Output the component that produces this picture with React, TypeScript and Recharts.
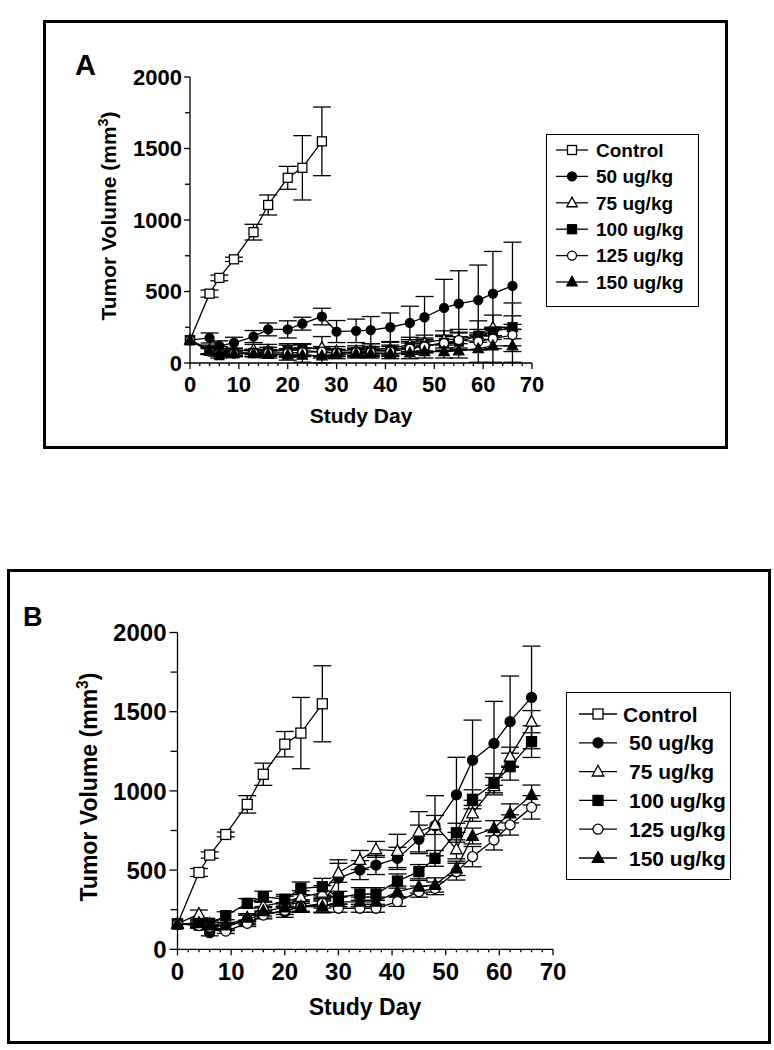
import React from 'react';
import { LineChart, Line, XAxis, YAxis, ErrorBar, Legend } from 'recharts';

const FONT = '"Liberation Sans", Arial, Helvetica, sans-serif';
const W = 774;
const H = 1050;

const DAYS = [0, 4, 6, 9, 13, 16, 20, 23, 27, 30, 34, 37, 41, 45, 48, 52, 55, 59, 62, 66];
const X_TICKS = [0, 2, 4, 6, 8, 10, 12, 14, 16, 18, 20, 22, 24, 26, 28, 30, 32, 34, 36, 38, 40, 42, 44, 46, 48, 50, 52, 54, 56, 58, 60, 62, 64, 66, 68, 70];
const Y_TICKS = [0, 250, 500, 750, 1000, 1250, 1500, 1750, 2000];

// control group is the same in both panels (stops at day 27)
const CONTROL = [160, 485, 595, 725, 915, 1105, 1295, 1365, 1550];
const CONTROL_ERR = [0, 25, 20, 15, 55, 70, 80, 225, 240];

// panel A
const A_50 = [160, 175, 120, 140, 185, 235, 235, 275, 325, 220, 225, 230, 250, 280, 320, 385, 415, 440, 485, 540];
const A_50_ERR = [0, 35, 35, 40, 42, 45, 60, 45, 58, 77, 82, 95, 100, 117, 145, 200, 230, 245, 295, 305];
const A_75 = [160, 95, 85, 80, 95, 90, 90, 95, 110, 85, 85, 95, 100, 130, 140, 165, 165, 195, 250, 250];
const A_75_ERR = [0, 30, 30, 25, 35, 40, 45, 40, 75, 30, 35, 40, 45, 50, 55, 60, 70, 100, 85, 170];
const A_100 = [160, 85, 55, 70, 70, 80, 90, 90, 75, 70, 75, 85, 90, 110, 120, 140, 150, 190, 220, 250];
const A_100_ERR = [0, 25, 20, 20, 25, 30, 35, 40, 30, 25, 25, 30, 35, 40, 45, 55, 60, 45, 30, 80];
const A_125 = [160, 80, 70, 65, 70, 70, 70, 75, 80, 70, 75, 75, 80, 100, 115, 140, 160, 150, 170, 195];
const A_125_ERR = [0, 20, 20, 20, 25, 25, 30, 30, 35, 25, 30, 30, 35, 40, 45, 50, 55, 60, 70, 75];
const A_150 = [160, 85, 75, 65, 65, 60, 55, 55, 50, 60, 65, 65, 65, 70, 80, 80, 85, 100, 120, 120];
const A_150_ERR = [0, 25, 25, 20, 20, 25, 35, 50, 50, 30, 30, 30, 35, 40, 45, 45, 50, 95, 115, 115];

// panel B
const B_50 = [160, 160, 105, 143, 185, 227, 237, 273, 280, 450, 500, 532, 574, 694, 780, 975, 1194, 1300, 1437, 1590];
const B_50_ERR = [0, 25, 20, 25, 30, 35, 35, 40, 50, 115, 60, 60, 70, 90, 190, 237, 253, 265, 288, 324];
const B_75 = [160, 223, 160, 140, 190, 273, 300, 330, 357, 483, 564, 631, 621, 742, 785, 631, 858, 1030, 1216, 1437];
const B_75_ERR = [0, 25, 20, 20, 25, 30, 35, 40, 45, 60, 60, 50, 105, 127, 60, 60, 50, 55, 60, 70];
const B_100 = [160, 153, 164, 212, 290, 332, 316, 385, 395, 326, 349, 349, 431, 490, 574, 736, 947, 1048, 1153, 1311];
const B_100_ERR = [0, 20, 20, 25, 30, 35, 30, 40, 53, 40, 40, 40, 45, 45, 50, 60, 60, 60, 85, 100];
const B_125 = [160, 150, 140, 115, 164, 216, 245, 270, 290, 259, 259, 259, 301, 364, 385, 490, 585, 690, 785, 896];
const B_125_ERR = [0, 15, 15, 15, 20, 20, 25, 30, 30, 25, 25, 25, 30, 35, 40, 53, 64, 63, 64, 74];
const B_150 = [160, 165, 150, 150, 200, 240, 265, 269, 269, 300, 300, 300, 364, 395, 406, 511, 715, 764, 858, 974];
const B_150_ERR = [0, 20, 20, 20, 25, 30, 30, 35, 35, 30, 30, 30, 35, 40, 45, 45, 50, 48, 60, 63];

const SERIES = [
  { key: 'ctrl', name: 'Control', shape: 'square', filled: false },
  { key: 's50', name: '50 ug/kg', shape: 'circle', filled: true },
  { key: 's75', name: '75 ug/kg', shape: 'triangle', filled: false },
  { key: 's100', name: '100 ug/kg', shape: 'square', filled: true },
  { key: 's125', name: '125 ug/kg', shape: 'circle', filled: false },
  { key: 's150', name: '150 ug/kg', shape: 'triangle', filled: true },
];

const buildRows = (vals: number[][], errs: number[][]) =>
  DAYS.map((day, i) => {
    const row: any = { day };
    SERIES.forEach((s, j) => {
      if (vals[j][i] !== undefined) {
        row[s.key] = vals[j][i];
        row[s.key + 'Err'] = errs[j][i];
      }
    });
    return row;
  });

const ROWS_A = buildRows(
  [CONTROL, A_50, A_75, A_100, A_125, A_150],
  [CONTROL_ERR, A_50_ERR, A_75_ERR, A_100_ERR, A_125_ERR, A_150_ERR]
);
const ROWS_B = buildRows(
  [CONTROL, B_50, B_75, B_100, B_125, B_150],
  [CONTROL_ERR, B_50_ERR, B_75_ERR, B_100_ERR, B_125_ERR, B_150_ERR]
);

const PANEL_A = {
  letter: 'A', letterLeft: 75, letterCapTop: 55, letterSize: 29,
  box: { left: 43, top: 20, width: 685, height: 429 },
  plot: { left: 190, right: 532, top: 77, bottom: 363 },
  tickFont: 22, yTickLen: [6, 5], xTickLen: [6, 3], yLabelGap: 8, xLabelDrop: 28.5,
  titleFont: 21, yTitle: { x: 116, y: 216 }, xTitle: { x: 361, y: 423 },
  legend: { left: 546, top: 134, width: 153, height: 173, firstY: 16, step: 26.4, lineX: [10, 42], textX: [50, 50], font: 19 },
  marker: 9,
};

const PANEL_B = {
  letter: 'B', letterLeft: 23, letterCapTop: 608, letterSize: 27,
  box: { left: 7, top: 569, width: 764, height: 475 },
  plot: { left: 177.5, right: 553, top: 632.5, bottom: 949.3 },
  tickFont: 24, yTickLen: [8, 7], xTickLen: [6, 3], yLabelGap: 11, xLabelDrop: 30.7,
  titleFont: 23, yTitle: { x: 96.5, y: 787 }, xTitle: { x: 365, y: 1015 },
  legend: { left: 566, top: 692, width: 165, height: 188, firstY: 22, step: 28.8, lineX: [13, 51], textX: [57, 63], font: 21 },
  marker: 10,
};

const Marker = ({ cx, cy, shape, filled, size }: any) => {
  const fill = filled ? '#000' : '#fff';
  const r = size / 2;
  if (shape === 'square') {
    return <rect x={cx - r} y={cy - r} width={size} height={size} fill={fill} stroke="#000" strokeWidth={1.3} />;
  }
  if (shape === 'circle') {
    return <circle cx={cx} cy={cy} r={r} fill={fill} stroke="#000" strokeWidth={1.3} />;
  }
  const h = size * 1.05;
  return (
    <polygon
      points={`${cx},${cy - h * 0.6} ${cx - h * 0.55},${cy + h * 0.42} ${cx + h * 0.55},${cy + h * 0.42}`}
      fill={fill}
      stroke="#000"
      strokeWidth={1.3}
      strokeLinejoin="miter"
    />
  );
};

const XTick = (props: any) => {
  const { x, y, payload, cfg } = props;
  const v = payload.value;
  const major = v % 10 === 0;
  const len = major ? cfg.xTickLen[0] : cfg.xTickLen[1];
  return (
    <g>
      <line x1={x} x2={x} y1={y} y2={y + len} stroke="#000" strokeWidth={1.3} />
      {major && (
        <text x={x} y={y + cfg.xLabelDrop} textAnchor="middle" fontSize={cfg.tickFont} fontWeight="bold" fontFamily={FONT} fill="#000">
          {v}
        </text>
      )}
    </g>
  );
};

const YTick = (props: any) => {
  const { x, y, payload, cfg } = props;
  const v = payload.value;
  const major = v % 500 === 0;
  const len = major ? cfg.yTickLen[0] : cfg.yTickLen[1];
  return (
    <g>
      <line x1={x - len} x2={x} y1={y} y2={y} stroke="#000" strokeWidth={1.3} />
      {major && (
        <text x={x - cfg.yLabelGap} y={y} dy="0.36em" textAnchor="end" fontSize={cfg.tickFont} fontWeight="bold" fontFamily={FONT} fill="#000">
          {v}
        </text>
      )}
    </g>
  );
};

const YTitle = ({ cfg }: any) => (
  <text
    transform={`translate(${cfg.yTitle.x},${cfg.yTitle.y}) rotate(-90)`}
    textAnchor="middle"
    fontSize={cfg.titleFont}
    fontWeight="bold"
    fontFamily={FONT}
    fill="#000"
  >
    Tumor Volume (mm
    <tspan fontSize={cfg.titleFont * 0.68} dy={-cfg.titleFont * 0.38}>3</tspan>
    <tspan dy={cfg.titleFont * 0.38}>)</tspan>
  </text>
);

const XTitle = ({ cfg }: any) => (
  <text x={cfg.xTitle.x} y={cfg.xTitle.y} textAnchor="middle" fontSize={cfg.titleFont} fontWeight="bold" fontFamily={FONT} fill="#000">
    Study Day
  </text>
);

const LegendBox = ({ cfg }: any) => {
  const lg = cfg.legend;
  return (
    <div style={{ width: lg.width, height: lg.height, border: '1.5px solid #000', boxSizing: 'border-box', background: '#fff', position: 'relative' }}>
      <svg width={lg.width} height={lg.height} style={{ position: 'absolute', left: -1.5, top: -1.5 }}>
        {SERIES.map((s, i) => {
          const cy = lg.firstY + i * lg.step;
          const mx = (lg.lineX[0] + lg.lineX[1]) / 2;
          return (
            <g key={s.key}>
              <line x1={lg.lineX[0]} x2={lg.lineX[1]} y1={cy} y2={cy} stroke="#000" strokeWidth={1.3} />
              <Marker cx={mx} cy={cy} shape={s.shape} filled={s.filled} size={cfg.marker} />
              <text x={i === 0 ? lg.textX[0] : lg.textX[1]} y={cy} dy="0.36em" fontSize={lg.font} fontWeight="bold" fontFamily={FONT} fill="#000">
                {s.name}
              </text>
            </g>
          );
        })}
      </svg>
    </div>
  );
};

const Panel = ({ cfg, rows }: any) => {
  const yAxisW = 60;
  const xAxisH = 60;
  const margin = {
    left: cfg.plot.left - yAxisW,
    right: W - cfg.plot.right,
    top: cfg.plot.top,
    bottom: H - cfg.plot.bottom - xAxisH,
  };
  const lg = cfg.legend;
  return (
    <>
      <div
        style={{
          position: 'absolute',
          left: cfg.box.left,
          top: cfg.box.top,
          width: cfg.box.width,
          height: cfg.box.height,
          border: '3px solid #000',
          boxSizing: 'border-box',
        }}
      />
      <div
        style={{
          position: 'absolute',
          left: cfg.letterLeft,
          top: cfg.letterCapTop - 0.1305 * cfg.letterSize,
          fontSize: cfg.letterSize,
          lineHeight: 1,
          fontWeight: 'bold',
          fontFamily: FONT,
        }}
      >
        {cfg.letter}
      </div>
      <div style={{ position: 'absolute', left: 0, top: 0 }}>
        <LineChart width={W} height={H} data={rows} margin={margin}>
          <XAxis
            dataKey="day"
            type="number"
            domain={[0, 70]}
            ticks={X_TICKS}
            interval={0}
            height={xAxisH}
            tickSize={0}
            tickMargin={0}
            tickLine={false}
            axisLine={{ stroke: '#000', strokeWidth: 1.3 }}
            tick={<XTick cfg={cfg} />}
            label={<XTitle cfg={cfg} />}
          />
          <YAxis
            type="number"
            domain={[0, 2000]}
            ticks={Y_TICKS}
            interval={0}
            width={yAxisW}
            tickSize={0}
            tickMargin={0}
            tickLine={false}
            axisLine={{ stroke: '#000', strokeWidth: 1.3 }}
            tick={<YTick cfg={cfg} />}
            label={<YTitle cfg={cfg} />}
          />
          <Legend
            layout="horizontal"
            verticalAlign="middle"
            align="center"
            width={lg.width}
            height={lg.height}
            wrapperStyle={{ left: lg.left, top: lg.top, width: lg.width, height: lg.height }}
            content={() => <LegendBox cfg={cfg} />}
          />
          {SERIES.map((s) => (
            <Line
              key={s.key}
              dataKey={s.key}
              name={s.name}
              type="linear"
              stroke="#000"
              strokeWidth={1.3}
              isAnimationActive={false}
              activeDot={false}
              dot={(p: any) =>
                p.cx == null || p.cy == null || p.value == null ? (
                  <g key={`${s.key}-${p.index}`} />
                ) : (
                  <Marker key={`${s.key}-${p.index}`} cx={p.cx} cy={p.cy} shape={s.shape} filled={s.filled} size={cfg.marker} />
                )
              }
            >
              <ErrorBar dataKey={`${s.key}Err`} direction="y" width={9} stroke="#000" strokeWidth={1.3} isAnimationActive={false} />
            </Line>
          ))}
        </LineChart>
      </div>
    </>
  );
};

export default function App() {
  return (
    <div style={{ position: 'absolute', left: 0, top: 0, width: W, height: H, background: '#fff', fontFamily: FONT }}>
      <Panel cfg={PANEL_A} rows={ROWS_A} />
      <Panel cfg={PANEL_B} rows={ROWS_B} />
    </div>
  );
}
